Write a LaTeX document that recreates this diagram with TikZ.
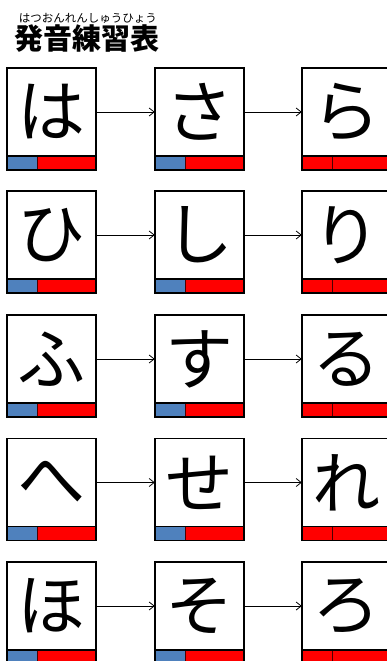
\documentclass[tikz,border=0pt]{standalone}
\usepackage{fontspec}
\usetikzlibrary{arrows.meta}
\newfontfamily\jp{Noto Sans CJK JP}
\definecolor{kblue}{RGB}{79,129,189}
\definecolor{kred}{RGB}{255,0,0}
\tikzset{
  kana/.style={rectangle, minimum width=89pt, minimum height=88pt, inner sep=0pt, font=\jp\fontsize{68}{68}\selectfont},
  bluepart/.style={fill=kblue},
  redpart/.style={fill=kred},
  boxline/.style={draw=black, line width=1.6pt},
  divline/.style={draw=black!70!red, line width=0.7pt},
  conn/.style={draw=black, line width=0.8pt, -{Straight Barb[length=5pt,width=8pt]}},
}
\begin{document}
\begin{tikzpicture}[x=1pt,y=-1pt]
\useasboundingbox (0,0) rectangle (387,661);
\fill[white] (0,0) rectangle (387,661);
% title
\node[font=\jp\fontsize{11.5}{12}\selectfont, inner sep=0pt] (ruby) at (88,18.5) {はつおんれんしゅうひょう};
\node[font=\jp\bfseries\fontsize{29}{30}\selectfont, inner sep=0pt] (title) at (87,39) {発音練習表};
% boxes
\foreach \r/\y/\ka/\kb/\kc in {1/68/は/さ/ら, 2/191/ひ/し/り, 3/315/ふ/す/る, 4/438.5/へ/せ/れ, 5/562/ほ/そ/ろ}{
  \foreach \c/\x/\k/\lc in {1/7/\ka/kblue, 2/155/\kb/kblue, 3/302/\kc/kred}{
    \node[kana] (k\r\c) at (\x+44.5,\y+44) {\k};
    \coordinate (s\r\c) at (\x,\y+88);
    \fill[\lc] (s\r\c) rectangle ++(30,14);
    \fill[kred] ([xshift=30pt]s\r\c) rectangle ++(59,14);
    \draw[divline] ([xshift=30pt]s\r\c) -- ++(0,14);
    \draw[boxline] (\x,\y) rectangle ++(89,102);
    \draw[boxline] (s\r\c) -- ++(89,0);
  }
  \draw[conn] (k\r1.east) -- (k\r2.west);
  \draw[conn] (k\r2.east) -- (k\r3.west);
}
\end{tikzpicture}
\end{document}
